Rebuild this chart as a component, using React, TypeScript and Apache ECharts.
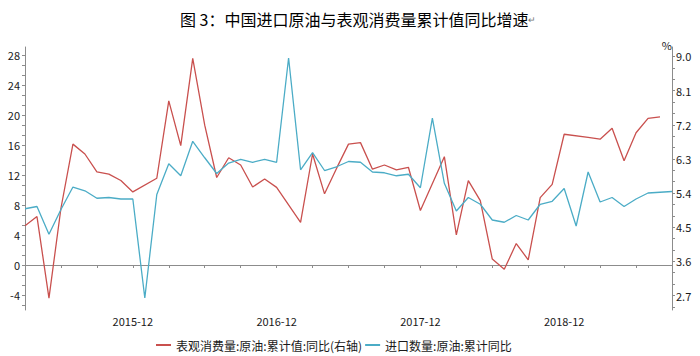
import React, { useEffect, useRef } from "react";
import * as echarts from "echarts";

const FONT = '"Noto Sans CJK SC", "Open Sans", sans-serif';

const TITLE = "图 3：中国进口原油与表观消费量累计值同比增速";
const SERIES_RED = "表观消费量:原油:累计值:同比(右轴)";
const SERIES_BLUE = "进口数量:原油:累计同比";

const months: string[] = [
  "2015-03", "2015-04", "2015-05", "2015-06", "2015-07", "2015-08", "2015-09", "2015-10", "2015-11", "2015-12",
  "2016-01", "2016-02", "2016-03", "2016-04", "2016-05", "2016-06", "2016-07", "2016-08", "2016-09", "2016-10", "2016-11", "2016-12",
  "2017-01", "2017-02", "2017-03", "2017-04", "2017-05", "2017-06", "2017-07", "2017-08", "2017-09", "2017-10", "2017-11", "2017-12",
  "2018-01", "2018-02", "2018-03", "2018-04", "2018-05", "2018-06", "2018-07", "2018-08", "2018-09", "2018-10", "2018-11", "2018-12",
  "2019-01", "2019-02", "2019-03", "2019-04", "2019-05", "2019-06", "2019-07", "2019-08", "2019-09",
];

// 表观消费量:原油:累计值:同比 (right axis, %)
const consumption: (number | null)[] = [
  4.54, 4.78, 2.63, 5.0, 6.69, 6.43, 5.96, 5.9, 5.73, 5.43,
  null, 5.79, 7.83, 6.65, 8.95, 7.19, 5.81, 6.33, 6.14, 5.56, 5.77, 5.55,
  null, 4.63, 6.43, 5.38, 6.05, 6.69, 6.73, 6.03, 6.14, 6.01, 6.08, 4.94,
  null, 6.36, 4.3, 5.73, 5.2, 3.66, 3.39, 4.07, 3.64, 5.28, 5.63, 6.95,
  null, 6.87, 6.82, 7.11, 6.25, 6.99, 7.37, 7.41, null,
];

// 进口数量:原油:累计同比 (left axis, %)
const imports: number[] = [
  7.5, 7.8, 4.1, 7.4, 10.4, 9.9, 8.9, 9.0, 8.8, 8.8,
  -4.4, 9.4, 13.5, 11.9, 16.5, 14.3, 12.2, 13.6, 14.1, 13.7, 14.1, 13.7,
  27.6, 12.7, 15.0, 12.6, 13.1, 13.8, 13.7, 12.4, 12.3, 11.9, 12.1, 10.3,
  19.6, 10.9, 7.2, 9.0, 8.1, 6.0, 5.7, 6.6, 6.0, 8.1, 8.5, 10.2,
  5.2, 12.4, 8.4, 9.0, 7.8, 8.8, 9.6, 9.7, 9.8,
];

const leftLabels: number[] = [-4, 0, 4, 8, 12, 16, 20, 24, 28];
const rightLabels: number[] = [2.7, 3.6, 4.5, 5.4, 6.3, 7.2, 8.1, 9.0];

const LEFT_MIN = -6;
const LEFT_MAX = 29.07;
const RIGHT_MIN = 2.318;
const RIGHT_MAX = 9.25;

function subTicks(labels: number[], step: number, lo: number, hi: number): number[] {
  const out: number[] = [];
  const first = labels[0];
  for (let k = -3; k <= labels.length * 3 + 3; k++) {
    const v = +(first + (k * step) / 3).toFixed(4);
    if (v >= lo - 1e-6 && v <= hi + 1e-6) out.push(v);
  }
  return out;
}

const RED = "#C9504E";
const BLUE = "#4BACC6";
const AXIS = "#8c8c8c";
const TEXT = "#1a1a1a";

export default function App() {
  const ref = useRef<HTMLDivElement>(null);
  useEffect(() => {
    if (!ref.current) return;
    const chart = echarts.init(ref.current, null, { renderer: "svg" });
    const leftTicks = subTicks(leftLabels, 4, LEFT_MIN, LEFT_MAX);
    const rightTicks = subTicks(rightLabels, 0.9, RIGHT_MIN, RIGHT_MAX);
    chart.setOption({
      animation: false,
      textStyle: { fontFamily: FONT },
      title: {
        text: TITLE + "{r|↵}",
        left: 175,
        top: 6,
        textStyle: {
          fontFamily: FONT,
          fontSize: 16,
          fontWeight: "normal",
          color: "#000",
          rich: { r: { fontSize: 9, color: "#777" } },
        },
      },
      legend: {
        left: 151,
        top: 334,
        itemWidth: 15,
        itemHeight: 2,
        itemGap: 3,
        icon: "rect",
        textStyle: { fontFamily: FONT, fontSize: 12, color: TEXT },
        data: [SERIES_RED, SERIES_BLUE],
      },
      grid: { left: 25, right: 28, top: 47, bottom: 46 },
      xAxis: {
        type: "category",
        data: months,
        boundaryGap: false,
        axisLine: { lineStyle: { color: AXIS, width: 1 } },
        axisTick: {
          interval: (i: number) => i % 3 === 0,
          length: 3,
          lineStyle: { color: AXIS },
        },
        axisLabel: {
          interval: (_i: number, v: string) => v.endsWith("-12"),
          margin: 5,
          fontSize: 11,
          color: TEXT,
          fontFamily: FONT,
        },
        splitLine: { show: false },
      },
      yAxis: [
        {
          type: "value",
          position: "left",
          min: LEFT_MIN,
          max: LEFT_MAX,
          axisLine: { show: true, lineStyle: { color: AXIS } },
          axisTick: { show: true, length: 3, customValues: leftTicks, lineStyle: { color: AXIS } },
          axisLabel: {
            customValues: leftLabels,
            formatter: (v: number) => String(Math.round(v)),
            fontSize: 11,
            margin: 5,
            color: TEXT,
            fontFamily: FONT,
          },
          splitLine: { show: false },
        },
        {
          type: "value",
          position: "right",
          min: RIGHT_MIN,
          max: RIGHT_MAX,
          name: "%",
          nameLocation: "end",
          nameGap: -3,
          nameTextStyle: { align: "right", verticalAlign: "bottom", fontSize: 11, color: TEXT, fontFamily: FONT },
          axisLine: { show: true, lineStyle: { color: AXIS } },
          axisTick: { show: true, length: 3, customValues: rightTicks, lineStyle: { color: AXIS } },
          axisLabel: {
            customValues: rightLabels,
            formatter: (v: number) => v.toFixed(1),
            fontSize: 11,
            margin: 4,
            color: TEXT,
            fontFamily: FONT,
          },
          splitLine: { show: false },
        },
      ],
      series: [
        {
          name: SERIES_RED,
          type: "line",
          yAxisIndex: 1,
          data: consumption,
          connectNulls: true,
          symbol: "none",
          showSymbol: false,
          lineStyle: { color: RED, width: 1.3 },
          itemStyle: { color: RED },
        },
        {
          name: SERIES_BLUE,
          type: "line",
          yAxisIndex: 0,
          data: imports,
          connectNulls: true,
          symbol: "none",
          showSymbol: false,
          lineStyle: { color: BLUE, width: 1.3 },
          itemStyle: { color: BLUE },
        },
      ],
    });
    return () => chart.dispose();
  }, []);
  return (
    <div
      ref={ref}
      style={{ position: "absolute", left: 0, top: 0, width: 700, height: 356, background: "#fff" }}
    />
  );
}
